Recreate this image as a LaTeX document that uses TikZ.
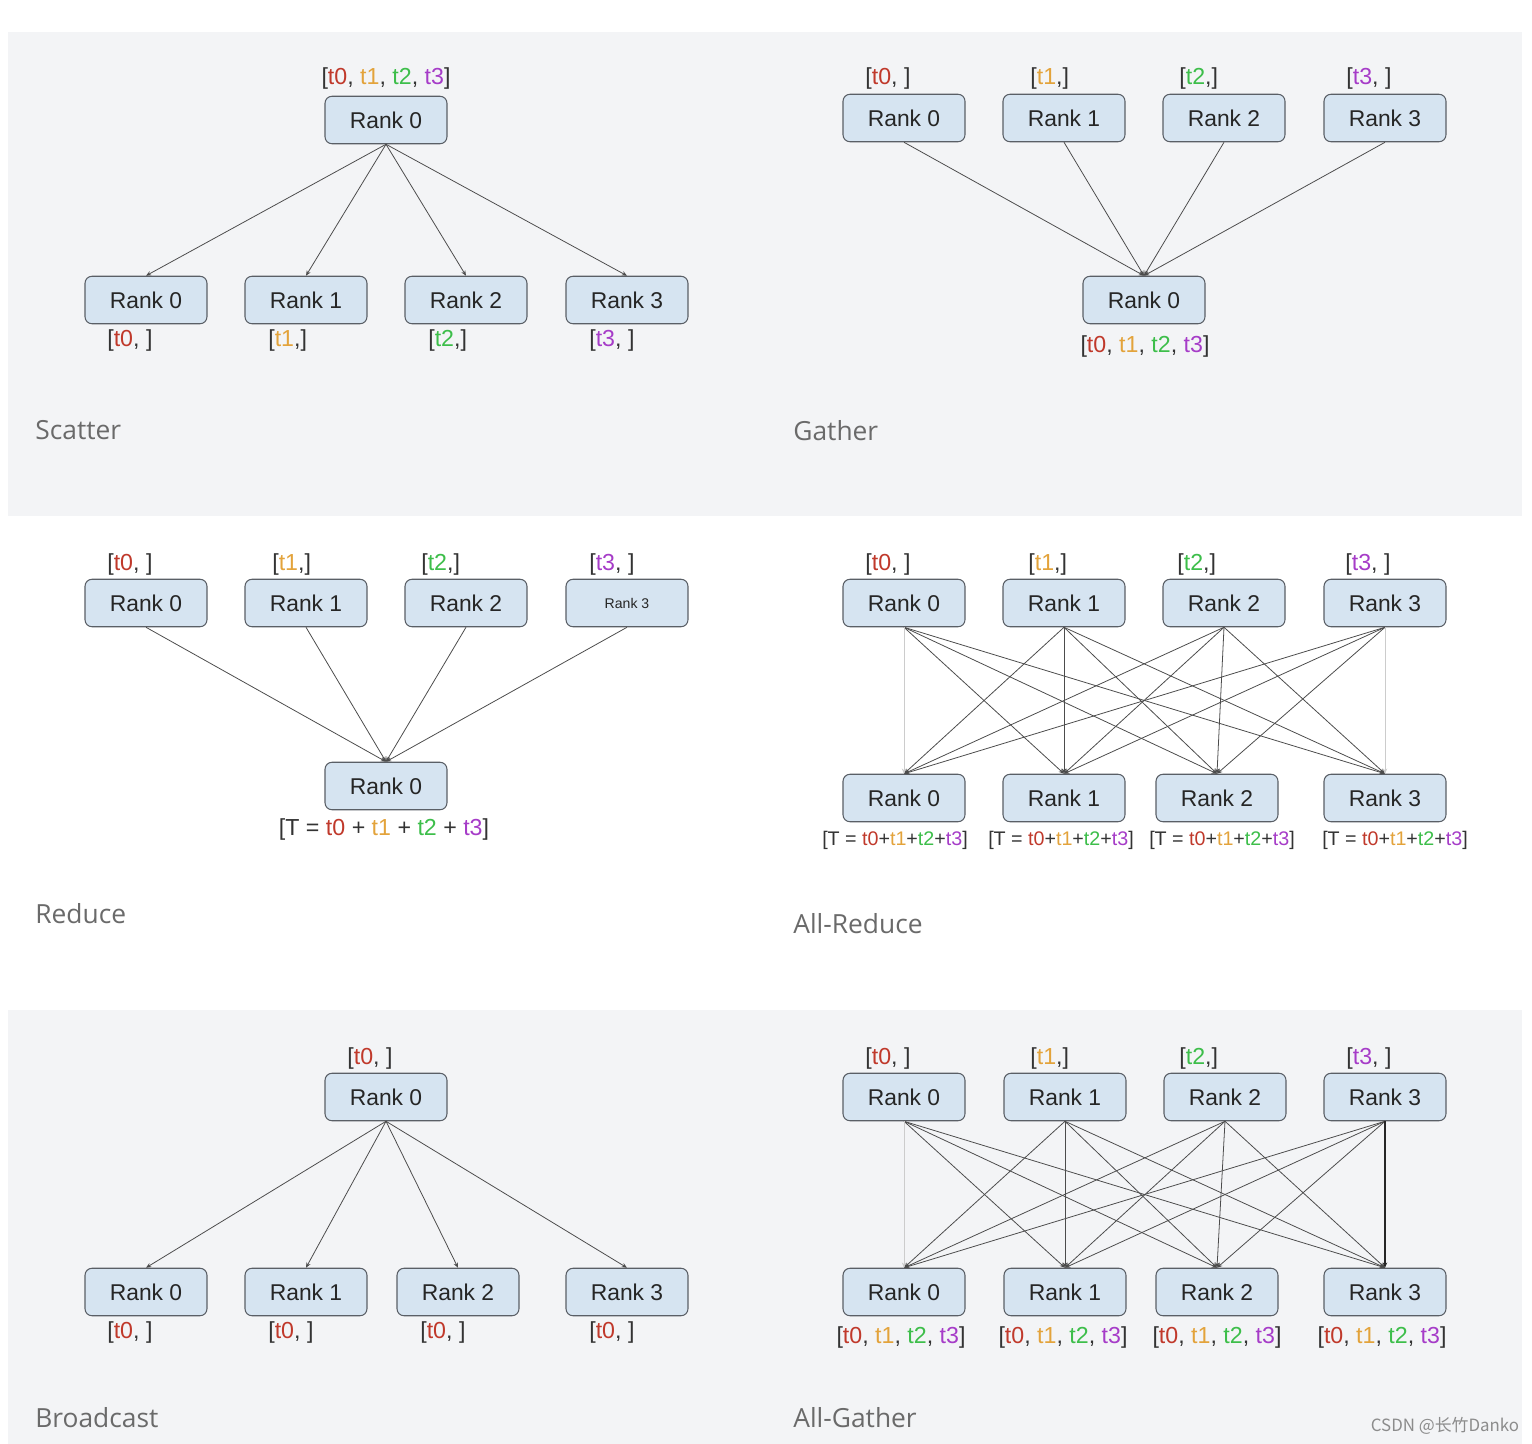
\documentclass[tikz,border=0pt]{standalone}
\usepackage{fontspec}
\setmainfont{Liberation Sans}
\newfontfamily\titlefont{Open Sans}
\newfontfamily\cjk{Noto Sans CJK SC}
\usetikzlibrary{arrows.meta}

\definecolor{panelgrey}{HTML}{F3F4F6}
\definecolor{rankblue}{HTML}{D6E4F1}
\definecolor{rankedge}{HTML}{5A5F66}
\definecolor{tcol0}{HTML}{C0392B}
\definecolor{tcol1}{HTML}{E3A33B}
\definecolor{tcol2}{HTML}{3DBE4A}
\definecolor{tcol3}{HTML}{A63CC8}
\definecolor{titlegrey}{HTML}{6A6A6A}

\newcommand{\tnum}[1]{\textcolor{tcol#1}{t#1}}

\tikzset{
  rank/.style={draw=rankedge, fill=rankblue, rounded corners=4pt, line width=0.6pt,
    minimum width=2.44cm, minimum height=0.95cm, inner sep=0pt,
    text=black!85, font=\fontsize{13}{15}\selectfont},
  lab/.style={inner sep=0pt, text=black!80, font=\fontsize{13.2}{15}\selectfont},
  smalllab/.style={inner sep=0pt, text=black!80, font=\fontsize{11.2}{13}\selectfont},
  heading/.style={anchor=west, inner sep=0pt, text=titlegrey, font=\titlefont\fontsize{15}{18}\selectfont},
  link/.style={draw=black!70, line width=0.45pt, -{Stealth[length=3pt, width=2.5pt]}},
  faint/.style={draw=black!20, line width=0.4pt, -{Stealth[length=3pt, width=2.5pt]}},
  strong/.style={draw=black!85, line width=0.8pt, -{Stealth[length=3pt, width=2.5pt]}}
}

\begin{document}
\begin{tikzpicture}[x=0.02cm, y=-0.02cm]
  \useasboundingbox (0,0) rectangle (1532,1444);
  \fill[white] (0,0) rectangle (1532,1444);
  \fill[panelgrey] (8,32) rectangle (1522,516);
  \fill[panelgrey] (8,1010) rectangle (1522,1444);

  % Scatter
  \node[rank] (sc) at (386,120) {Rank 0};
  \node[lab] (sclab) at (386,78) {[\tnum0, \tnum1, \tnum2, \tnum3]};
  \foreach \i/\x in {0/146, 1/306, 2/466, 3/627} {
    \node[rank] (sc\i) at (\x,300) {Rank \i};
    \draw[link] (sc.south) -- (sc\i.north);
  }
  \node[lab, anchor=west] (sclab0) at (107,340) {[\tnum0, ]};
  \node[lab, anchor=west] (sclab1) at (268,340) {[\tnum1,]};
  \node[lab, anchor=west] (sclab2) at (428,340) {[\tnum2,]};
  \node[lab, anchor=west] (sclab3) at (589,340) {[\tnum3, ]};
  \node[heading] (scttl) at (35,430) {Scatter};

  % Gather
  \node[rank] (gaR) at (1144,300) {Rank 0};
  \node[lab] (gaRlab) at (1145,346) {[\tnum0, \tnum1, \tnum2, \tnum3]};
  \foreach \i/\x in {0/904, 1/1064, 2/1224, 3/1385} {
    \node[rank] (ga\i) at (\x,118) {Rank \i};
    \draw[link] (ga\i.south) -- (gaR.north);
  }
  \node[lab, anchor=west] (galab0) at (865,78) {[\tnum0, ]};
  \node[lab, anchor=west] (galab1) at (1030,78) {[\tnum1,]};
  \node[lab, anchor=west] (galab2) at (1179,78) {[\tnum2,]};
  \node[lab, anchor=west] (galab3) at (1346,78) {[\tnum3, ]};
  \node[heading] (gattl) at (793,431) {Gather};

  % Reduce
  \node[rank] (reR) at (386,786) {Rank 0};
  \node[lab] (reRlab) at (384,829) {[T = \tnum0 + \tnum1 + \tnum2 + \tnum3]};
  \node[rank] (re0) at (146,603) {Rank 0};
  \node[rank] (re1) at (306,603) {Rank 1};
  \node[rank] (re2) at (466,603) {Rank 2};
  \node[rank, font=\fontsize{8}{9}\selectfont] (re3) at (627,603) {Rank 3};
  \foreach \i in {0,...,3}
    \draw[link] (re\i.south) -- (reR.north);
  \node[lab, anchor=west] (relab0) at (107,564) {[\tnum0, ]};
  \node[lab, anchor=west] (relab1) at (272,564) {[\tnum1,]};
  \node[lab, anchor=west] (relab2) at (421,564) {[\tnum2,]};
  \node[lab, anchor=west] (relab3) at (589,564) {[\tnum3, ]};
  \node[heading] (rettl) at (35,914) {Reduce};

  % All-Reduce
  \foreach \i/\x in {0/904, 1/1064, 2/1224, 3/1385}
    \node[rank] (ar\i) at (\x,603) {Rank \i};
  \foreach \i/\x in {0/904, 1/1064, 2/1217, 3/1385}
    \node[rank] (arb\i) at (\x,798) {Rank \i};
  \foreach \i in {0,...,3}
    \foreach \j in {0,...,3} {
      \ifnum\i=\j\else \draw[link] (ar\i.south) -- (arb\j.north);\fi
    }
  \draw[faint] (ar0.south) -- (arb0.north);
  \draw[link] (ar1.south) -- (arb1.north);
  \draw[link] (ar2.south) -- (arb2.north);
  \draw[faint] (ar3.south) -- (arb3.north);
  \node[lab, anchor=west] (arlab0) at (865,564) {[\tnum0, ]};
  \node[lab, anchor=west] (arlab1) at (1028,564) {[\tnum1,]};
  \node[lab, anchor=west] (arlab2) at (1177,564) {[\tnum2,]};
  \node[lab, anchor=west] (arlab3) at (1345,564) {[\tnum3, ]};
  \foreach \i/\x in {0/895, 1/1061, 2/1222, 3/1395}
    \node[smalllab] (arblab\i) at (\x,840) {[T = \tnum0+\tnum1+\tnum2+\tnum3]};
  \node[heading] (arttl) at (793,924) {All-Reduce};

  % Broadcast
  \node[rank] (bc) at (386,1097) {Rank 0};
  \node[lab] (bclab) at (370,1058) {[\tnum0, ]};
  \foreach \i/\x in {0/146, 1/306, 2/458, 3/627} {
    \node[rank] (bc\i) at (\x,1292) {Rank \i};
    \draw[link] (bc.south) -- (bc\i.north);
  }
  \foreach \i/\x in {0/107, 1/268, 2/420, 3/589}
    \node[lab, anchor=west] (bclab\i) at (\x,1332) {[\tnum0, ]};
  \node[heading] (bcttl) at (35,1418) {Broadcast};

  % All-Gather
  \foreach \i/\x in {0/904, 1/1065, 2/1225, 3/1385}
    \node[rank] (ag\i) at (\x,1097) {Rank \i};
  \foreach \i/\x in {0/904, 1/1065, 2/1217, 3/1385}
    \node[rank] (agb\i) at (\x,1292) {Rank \i};
  \foreach \i in {0,...,3}
    \foreach \j in {0,...,3} {
      \ifnum\i=\j\else \draw[link] (ag\i.south) -- (agb\j.north);\fi
    }
  \draw[faint] (ag0.south) -- (agb0.north);
  \draw[link] (ag1.south) -- (agb1.north);
  \draw[link] (ag2.south) -- (agb2.north);
  \draw[strong] (ag3.south) -- (agb3.north);
  \node[lab, anchor=west] (aglab0) at (865,1058) {[\tnum0, ]};
  \node[lab, anchor=west] (aglab1) at (1030,1058) {[\tnum1,]};
  \node[lab, anchor=west] (aglab2) at (1179,1058) {[\tnum2,]};
  \node[lab, anchor=west] (aglab3) at (1346,1058) {[\tnum3, ]};
  \foreach \i/\x in {0/901, 1/1063, 2/1217, 3/1382}
    \node[lab] (agblab\i) at (\x,1337) {[\tnum0, \tnum1, \tnum2, \tnum3]};
  \node[heading] (agttl) at (793,1418) {All-Gather};

  % watermark
  \node[inner sep=0pt, text=black!45, font=\cjk\fontsize{9.6}{11}\selectfont] (mark) at (1445,1426) {CSDN @长竹Danko};
\end{tikzpicture}
\end{document}
